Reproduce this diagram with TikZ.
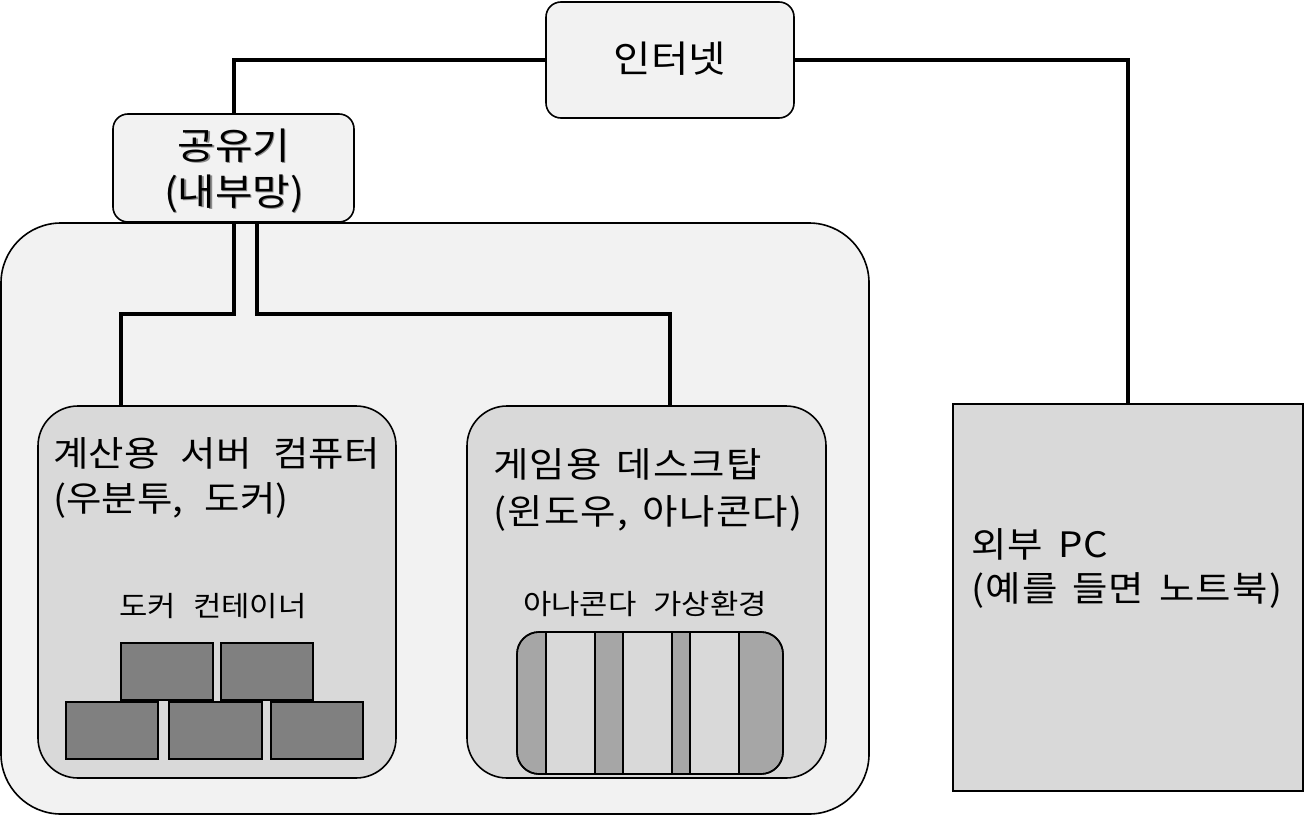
\documentclass[tikz,border=0pt]{standalone}
\usepackage{fontspec}
\newfontfamily\krA[FakeStretch=1.1,WordSpace=2.5]{Noto Sans CJK KR}
\newfontfamily\krB[FakeStretch=1.1,WordSpace=1.5,LetterSpace=3.5]{Noto Sans CJK KR}
\definecolor{cLight}{HTML}{F2F2F2}
\definecolor{cMid}{HTML}{D9D9D9}
\definecolor{cDark}{HTML}{A6A6A6}
\definecolor{cBrick}{HTML}{808080}
\begin{document}
\begin{tikzpicture}[x=1pt,y=-1pt,
  panel/.style={draw, line width=1.6pt, inner sep=0pt, outer sep=0pt, anchor=north west},
  brick/.style={draw, fill=cBrick, line width=2pt, inner sep=0pt, outer sep=0pt, anchor=north west, minimum height=57pt},
  strip/.style={draw, line width=1.6pt, inner sep=0pt, outer sep=0pt, anchor=north west, minimum height=142pt},
  conn/.style={line width=4pt},
  bigtxt/.style={inner sep=0pt, font=\krA\fontsize{37pt}{45pt}\selectfont},
  txt/.style={inner sep=0pt, anchor=base west, font=\krA\fontsize{35pt}{45pt}\selectfont},
  wtxt/.style={inner sep=0pt, anchor=base west, font=\krB\fontsize{35pt}{45pt}\selectfont},
  smalltxt/.style={inner sep=0pt, anchor=base, font=\krA\fontsize{28pt}{30pt}\selectfont}]
\useasboundingbox (0,0) rectangle (1305,816);

% containers
\node[panel, fill=cLight, rounded corners=60pt, minimum width=868pt, minimum height=591pt] (lan) at (1,223) {};
\node[panel, fill=cMid, rounded corners=40pt, minimum width=358pt, minimum height=372pt] (server) at (38,406) {};
\node[panel, fill=cMid, rounded corners=40pt, minimum width=359pt, minimum height=372pt] (gaming) at (467,406) {};
\node[panel, fill=cMid, minimum width=350pt, minimum height=387pt] (ext) at (953,404) {};
\node[panel, fill=cLight, rounded corners=15pt, minimum width=248pt, minimum height=116pt] (inet) at (546,2) {};
\node[panel, fill=cLight, rounded corners=15pt, minimum width=241pt, minimum height=108pt] (router) at (113,114) {};

% docker bricks
\node[brick, minimum width=92pt] (b1) at (121,643) {};
\node[brick, minimum width=92pt] (b2) at (221,643) {};
\node[brick, minimum width=92pt] (b3) at (66,702) {};
\node[brick, minimum width=93pt] (b4) at (169,702) {};
\node[brick, minimum width=92pt] (b5) at (271,702) {};

% anaconda environments
\node[panel, fill=cDark, rounded corners=22pt, minimum width=266pt, minimum height=142pt] (env) at (517,632) {};
\node[strip, fill=cMid, minimum width=49pt] (s1) at (546,632) {};
\node[strip, fill=cMid, minimum width=49pt] (s2) at (623,632) {};
\node[strip, fill=cMid, minimum width=49pt] (s3) at (690,632) {};
\draw[line width=1.6pt, rounded corners=22pt] (env.north west) rectangle (env.south east);

% connectors
\coordinate (rA) at ([xshift=0.5pt]router.south);
\coordinate (rB) at ([xshift=23.5pt]router.south);
\coordinate (sTop) at ([xshift=83pt]server.north west);
\coordinate (gTop) at ([xshift=203pt]gaming.north west);
\draw[conn] (inet.west) -| (router.north);
\draw[conn] (inet.east) -| (ext.north);
\draw[conn] (rA) -- ++(0,92) -| (sTop);
\draw[conn] (rB) -- ++(0,92) -| (gTop);

% texts
\node[bigtxt, anchor=base] (inetT) at (670,73) {인터넷};
\node[bigtxt, anchor=base, text=black!45] (routerS1) at (235.2,160.7) {공유기};
\node[bigtxt, anchor=base, text=black!45] (routerS2) at (235.2,206.2) {(내부망)};
\node[bigtxt, anchor=base] (routerT1) at (234,159.5) {공유기};
\node[bigtxt, anchor=base] (routerT2) at (234,205) {(내부망)};

\node[txt] (srv1) at (53,466) {계산용 서버 컴퓨터};
\node[txt] (srv2) at (53,511) {(우분투, 도커)};
\node[wtxt] (gm1) at (493,477) {게임용 데스크탑};
\node[wtxt] (gm2) at (493,524) {(윈도우, 아나콘다)};
\node[wtxt] (ex1) at (971,557) {외부 PC};
\node[wtxt] (ex2) at (971,601) {(예를 들면 노트북)};

\node[smalltxt] (dockT) at (213,616) {도커 컨테이너};
\node[smalltxt] (envT) at (645,614) {아나콘다 가상환경};
\end{tikzpicture}
\end{document}
